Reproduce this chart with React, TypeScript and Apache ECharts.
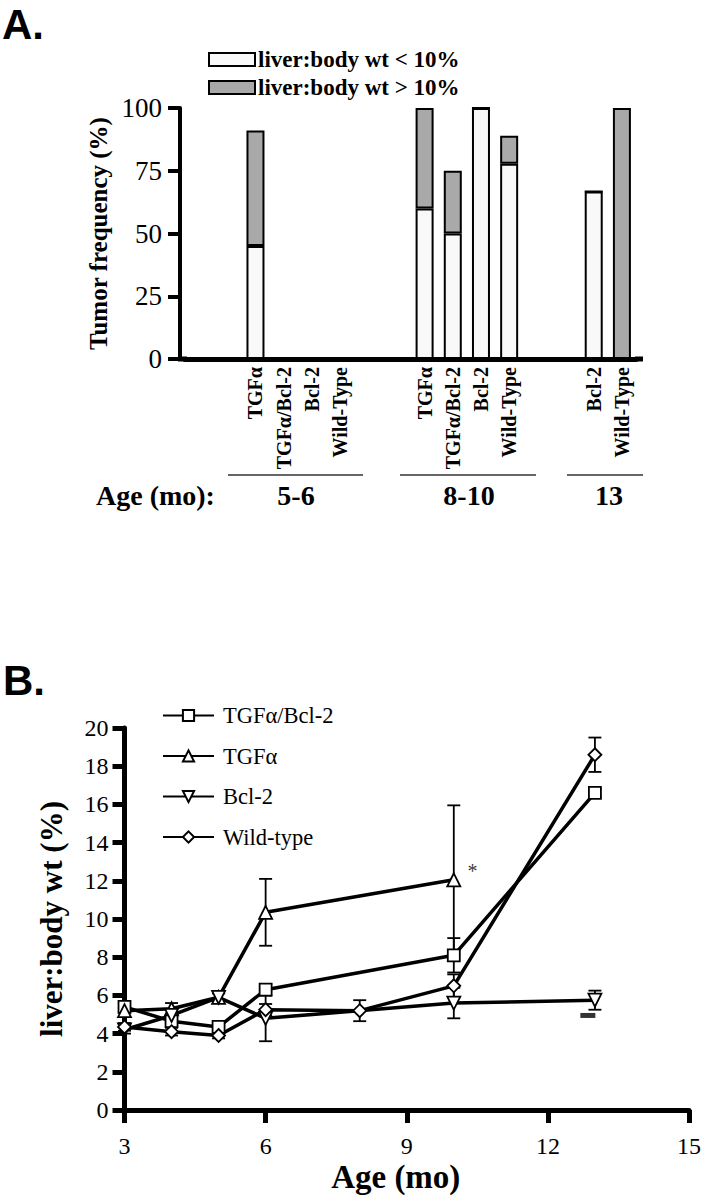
import React, { useEffect, useRef } from "react";
import * as echarts from "echarts";

// ---------- Panel A data ----------
const barLabels = ["TGFα", "TGFα/Bcl-2", "Bcl-2", "Wild-Type", "TGFα", "TGFα/Bcl-2", "Bcl-2", "Wild-Type", "Bcl-2", "Wild-Type"];
const groupSizes = [4, 4, 2];
const ageGroups = ["5-6", "8-10", "13"];
const below10 = [45, 0, 0, 0, 60, 50, 100, 77.8, 66.7, 0];
const above10 = [46, 0, 0, 0, 40, 25, 0, 11.1, 0, 100];

// ---------- Panel B data ----------
const tgfBcl2Ages = [3, 4, 5, 6, 10, 13];
const tgfBcl2Vals = [5.4, 4.65, 4.35, 6.3, 8.1, 16.6];
const tgfBcl2Err = [0.3, 0.2, 0.2, 0.3, 0.9, 0.2];

const tgfAges = [3, 4, 5, 6, 10];
const tgfVals = [5.2, 5.3, 5.9, 10.35, 12.05];
const tgfErr = [0.3, 0.3, 0.3, 1.75, 3.9];

const bcl2Ages = [3, 4, 5, 6, 10, 13];
const bcl2Vals = [4.2, 4.95, 5.9, 4.8, 5.6, 5.75];
const bcl2Err = [0.2, 0.3, 0.2, 1.2, 0.8, 0.5];

const wtAges = [3, 4, 5, 6, 8, 10, 13];
const wtVals = [4.35, 4.1, 3.9, 5.25, 5.2, 6.5, 18.6];
const wtErr = [0.2, 0.2, 0.15, 0.3, 0.55, 0.6, 0.9];

const asteriskPoint = [10.4, 12.5];
const dashPoint = [12.85, 4.95];

const SERIF = '"Liberation Serif", "Times New Roman", serif';
const SANS = '"Liberation Sans", Arial, sans-serif';

function buildSlots() {
  const cats: string[] = [];
  const lo: (number | null)[] = [];
  const hi: (number | null)[] = [];
  let k = 0;
  groupSizes.forEach((n) => {
    cats.push("", "");
    lo.push(null, null);
    hi.push(null, null);
    for (let i = 0; i < n; i++) {
      cats.push(barLabels[k]);
      lo.push(below10[k]);
      hi.push(above10[k]);
      k++;
    }
  });
  return { cats, lo, hi };
}

export default function App() {
  const ref = useRef<HTMLDivElement>(null);
  useEffect(() => {
    if (!ref.current) return;
    const chart = echarts.init(ref.current, null, { renderer: "svg" });
    const { cats, lo, hi } = buildSlots();
    const zip = (a: number[], b: number[]) => a.map((x, i) => [x, b[i]]);
    const errs: number[][] = [];
    const addErr = (a: number[], v: number[], e: number[]) =>
      a.forEach((x, i) => errs.push([x, v[i] - e[i], v[i] + e[i]]));
    addErr(tgfBcl2Ages, tgfBcl2Vals, tgfBcl2Err);
    addErr(tgfAges, tgfVals, tgfErr);
    addErr(bcl2Ages, bcl2Vals, bcl2Err);
    addErr(wtAges, wtVals, wtErr);

    const lineBase = {
      type: "line",
      xAxisIndex: 1,
      yAxisIndex: 1,
      symbolSize: 12,
      lineStyle: { color: "#000", width: 3.5 },
      itemStyle: { color: "#fff", borderColor: "#000", borderWidth: 1.8 },
      z: 5,
    };

    const txt = (text: string, x: number, y: number, font: string, align = "center") => ({
      type: "text",
      x,
      y,
      style: { text, fill: "#000", font, align, verticalAlign: "middle", textAlign: align, textVerticalAlign: "middle" },
    });

    const groupLines = [
      [228, 363],
      [400, 536],
      [567, 643],
    ];
    const groupCenters = [296, 469, 609];

    const option: any = {
      animation: false,
      backgroundColor: "#fff",
      grid: [
        { left: 185, top: 108, width: 451, height: 251, containLabel: false },
        { left: 124.5, top: 728, width: 568.5, height: 382, containLabel: false },
      ],
      legend: [
        {
          data: ["liver:body wt < 10%", "liver:body wt > 10%"],
          orient: "vertical",
          left: 208,
          top: 48,
          padding: 0,
          itemWidth: 46,
          itemHeight: 13,
          itemGap: 5,
          icon: "rect",
          textStyle: { fontFamily: SERIF, fontWeight: "bold", fontSize: 23, color: "#000", padding: [0, 0, 0, -2] },
        },
        {
          data: ["TGFα/Bcl-2", "TGFα", "Bcl-2", "Wild-type"],
          orient: "vertical",
          left: 162,
          top: 704,
          padding: 0,
          itemWidth: 51,
          itemHeight: 14,
          itemGap: 17.5,
          textStyle: { fontFamily: SERIF, fontSize: 22.5, color: "#000", padding: [0, 0, 0, 4] },
        },
      ],
      xAxis: [
        {
          type: "category",
          gridIndex: 0,
          data: cats,
          axisLine: { lineStyle: { color: "#000", width: 5 } },
          axisTick: { show: false },
          axisLabel: {
            interval: 0,
            rotate: 90,
            margin: 8,
            color: "#000",
            fontFamily: SERIF,
            fontWeight: "bold",
            fontSize: 20,
          },
        },
        {
          type: "value",
          gridIndex: 1,
          min: 3,
          max: 15,
          interval: 3,
          splitLine: { show: false },
          axisLine: { lineStyle: { color: "#000", width: 5 } },
          axisTick: { length: 13, lineStyle: { color: "#000", width: 5 } },
          axisLabel: { margin: 24, color: "#000", fontFamily: SERIF, fontSize: 24 },
          name: "Age (mo)",
          nameLocation: "middle",
          nameGap: 50,
          nameTextStyle: { fontFamily: SERIF, fontWeight: "bold", fontSize: 33, color: "#000", padding: [0, 22, 0, 0] },
        },
      ],
      yAxis: [
        {
          type: "value",
          gridIndex: 0,
          min: 0,
          max: 100,
          interval: 25,
          offset: 5,
          splitLine: { show: false },
          axisLine: { show: true, lineStyle: { color: "#000", width: 4 } },
          axisTick: { show: true, length: 12, lineStyle: { color: "#000", width: 4 } },
          axisLabel: { margin: 18, color: "#000", fontFamily: SERIF, fontSize: 27 },
          name: "Tumor frequency (%)",
          nameLocation: "middle",
          nameGap: 66,
          nameTextStyle: { fontFamily: SERIF, fontWeight: "bold", fontSize: 25, color: "#000" },
        },
        {
          type: "value",
          gridIndex: 1,
          min: 0,
          max: 20,
          interval: 2,
          splitLine: { show: false },
          axisLine: { show: true, lineStyle: { color: "#000", width: 5 } },
          axisTick: { show: true, length: 12, lineStyle: { color: "#000", width: 5 } },
          axisLabel: { margin: 16, color: "#000", fontFamily: SERIF, fontSize: 24 },
          name: "liver:body wt (%)",
          nameLocation: "middle",
          nameGap: 58,
          nameTextStyle: { fontFamily: SERIF, fontWeight: "bold", fontSize: 31, color: "#000" },
        },
      ],
      series: [
        {
          name: "liver:body wt < 10%",
          type: "bar",
          xAxisIndex: 0,
          yAxisIndex: 0,
          stack: "freq",
          barWidth: 18,
          data: lo,
          itemStyle: { color: "#f9f9f9", borderColor: "#000", borderWidth: 2 },
        },
        {
          name: "liver:body wt > 10%",
          type: "bar",
          xAxisIndex: 0,
          yAxisIndex: 0,
          stack: "freq",
          barWidth: 18,
          data: hi,
          itemStyle: { color: "#a9a9a9", borderColor: "#000", borderWidth: 2 },
        },
        {
          type: "custom",
          xAxisIndex: 1,
          yAxisIndex: 1,
          z: 3,
          data: errs,
          renderItem: (params: any, api: any) => {
            const x = api.value(0);
            const top = api.coord([x, api.value(2)]);
            const bot = api.coord([x, api.value(1)]);
            const w = 6.5;
            const st = { stroke: "#000", lineWidth: 1.8 };
            return {
              type: "group",
              children: [
                { type: "line", shape: { x1: top[0], y1: top[1], x2: bot[0], y2: bot[1] }, style: st },
                { type: "line", shape: { x1: top[0] - w, y1: top[1], x2: top[0] + w, y2: top[1] }, style: st },
                { type: "line", shape: { x1: bot[0] - w, y1: bot[1], x2: bot[0] + w, y2: bot[1] }, style: st },
              ],
            };
          },
        },
        { ...lineBase, name: "TGFα/Bcl-2", symbol: "rect", data: zip(tgfBcl2Ages, tgfBcl2Vals) },
        { ...lineBase, name: "TGFα", symbol: "triangle", symbolSize: 13, data: zip(tgfAges, tgfVals) },
        { ...lineBase, name: "Bcl-2", symbol: "triangle", symbolRotate: 180, symbolSize: 13, data: zip(bcl2Ages, bcl2Vals) },
        { ...lineBase, name: "Wild-type", symbol: "diamond", symbolSize: 13, data: zip(wtAges, wtVals) },
        {
          type: "scatter",
          xAxisIndex: 1,
          yAxisIndex: 1,
          symbolSize: 1,
          itemStyle: { color: "transparent" },
          data: [asteriskPoint],
          label: { show: true, formatter: "*", position: "inside", color: "#000", fontFamily: SERIF, fontSize: 20 },
        },
        {
          type: "scatter",
          xAxisIndex: 1,
          yAxisIndex: 1,
          symbol: "rect",
          symbolSize: [15, 5],
          itemStyle: { color: "#000" },
          data: [dashPoint],
        },
      ],
      graphic: [
        txt("A.", 2, 24, `bold 42px ${SANS}`, "left"),
        txt("B.", 3, 680, `bold 42px ${SANS}`, "left"),
        { type: "rect", shape: { x: 178, y: 356.5, width: 9, height: 5 }, style: { fill: "#000" } },
        { type: "rect", shape: { x: 635, y: 356.5, width: 8, height: 5 }, style: { fill: "#000" } },
        ...groupLines.map(([a, b]) => ({
          type: "line",
          shape: { x1: a, y1: 475, x2: b, y2: 475 },
          style: { stroke: "#333", lineWidth: 1.5 },
        })),
        txt("Age (mo):", 96, 495, `bold 28px ${SERIF}`, "left"),
        ...ageGroups.map((g, i) => txt(g, groupCenters[i], 495, `bold 28px ${SERIF}`)),
      ],
    };
    chart.setOption(option);
    return () => chart.dispose();
  }, []);
  return <div ref={ref} style={{ position: "absolute", left: 0, top: 0, width: 704, height: 1199 }} />;
}
